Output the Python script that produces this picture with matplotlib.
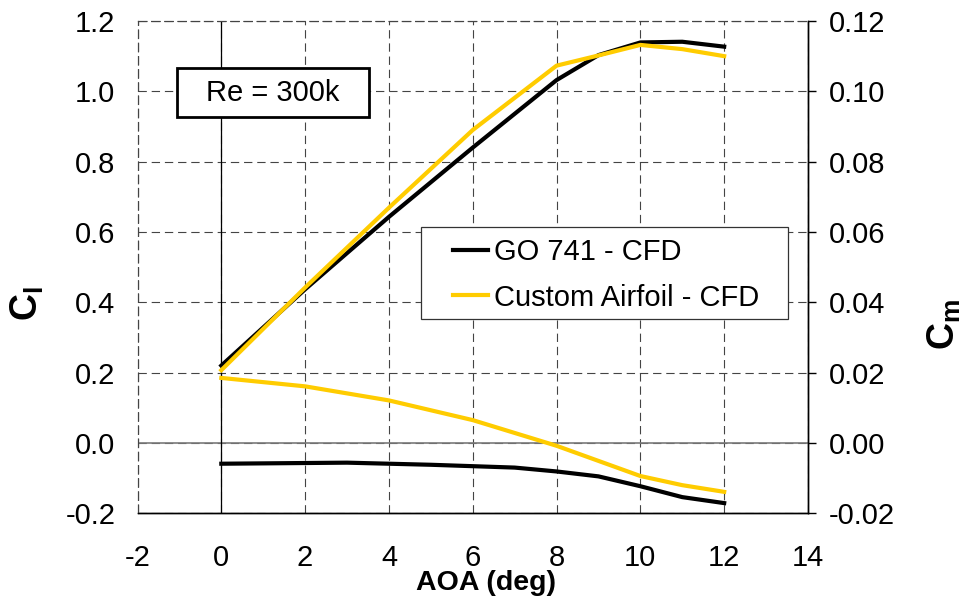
import matplotlib
matplotlib.use("Agg")
import matplotlib.pyplot as plt
from matplotlib.patches import Rectangle
from matplotlib.lines import Line2D

plt.rcParams['font.family'] = ['Liberation Sans', 'DejaVu Sans']
plt.rcParams['mathtext.fontset'] = 'custom'
plt.rcParams['mathtext.rm'] = 'Liberation Sans'
plt.rcParams['mathtext.bf'] = 'Liberation Sans:bold'
plt.rcParams['lines.scale_dashes'] = False

# ---- data ----
aoa_go = [0, 2, 4, 6, 8, 9, 10, 11, 12]
cl_go = [0.220, 0.437, 0.643, 0.840, 1.032, 1.103, 1.139, 1.141, 1.127]
aoa_cu = [0, 2, 4, 6, 8, 9, 10, 11, 12]
cl_cu = [0.207, 0.442, 0.669, 0.890, 1.073, 1.102, 1.132, 1.120, 1.100]

aoa_cm_go = [0, 1, 2, 3, 4, 5, 6, 7, 8, 9, 10, 11, 12]
cm_go = [-0.0059, -0.0058, -0.0057, -0.0056, -0.0059, -0.0062, -0.0066,
         -0.0070, -0.0081, -0.0095, -0.0123, -0.0154, -0.0171]
aoa_cm_cu = [0, 2, 4, 6, 8, 10, 11, 12]
cm_cu = [0.0185, 0.0161, 0.0121, 0.0065, -0.0008, -0.0094, -0.0120, -0.0139]

labels = ['GO 741 - CFD', 'Custom Airfoil - CFD']
x_ticks = [-2, 0, 2, 4, 6, 8, 10, 12, 14]
cl_ticks = [-0.2, 0.0, 0.2, 0.4, 0.6, 0.8, 1.0, 1.2]
cm_ticks = [-0.02, 0.0, 0.02, 0.04, 0.06, 0.08, 0.10, 0.12]

BLACK = '#000000'
YELLOW = '#FFCC00'
W, H = 964, 598
FS = 21

fig = plt.figure(figsize=(W / 100, H / 100), dpi=100)
ax = fig.add_axes([137.5 / W, 1 - 513.3 / H, (808 - 137.5) / W, (513.3 - 21) / H])
ax2 = ax.twinx()

dash = (0, (6, 3.5))
gridc = '#444444'

ax.set_xlim(-2, 14)
ax.set_ylim(-0.2, 1.2)
ax2.set_ylim(-0.02, 0.12)
ax.set_xticks(x_ticks)
ax.set_xticklabels([str(t) for t in x_ticks])
ax.set_yticks(cl_ticks)
ax.set_yticklabels([f'{t:.1f}' for t in cl_ticks])
ax2.set_yticks(cm_ticks)
ax2.set_yticklabels([f'{t:.2f}' for t in cm_ticks])

ax.grid(True, color=gridc, linestyle=dash, linewidth=0.8)
ax.set_axisbelow(True)

ax.tick_params(axis='x', length=0, pad=22, labelsize=FS)
ax.tick_params(axis='y', length=0, pad=16, labelsize=FS)
ax2.tick_params(axis='y', direction='out', length=6, width=1, pad=9, labelsize=FS,
                color='black')

for a in (ax, ax2):
    a.spines['top'].set_linestyle(dash)
    a.spines['top'].set_color(gridc)
    a.spines['top'].set_linewidth(0.8)
    a.spines['left'].set_linestyle(dash)
    a.spines['left'].set_color(gridc)
    a.spines['left'].set_linewidth(0.8)
    a.spines['bottom'].set_color('black')
    a.spines['bottom'].set_linewidth(1.0)
    a.spines['right'].set_color('black')
    a.spines['right'].set_linewidth(1.0)

ax.axhline(0, color='#7a7a7a', linewidth=1.2, zorder=1.5)
ax.axvline(0, color='black', linewidth=0.9, zorder=1.5)

lw = 3.0
ax.plot(aoa_go, cl_go, color=BLACK, linewidth=lw, zorder=3)
ax.plot(aoa_cu, cl_cu, color=YELLOW, linewidth=lw, zorder=4)
ax2.plot(aoa_cm_go, cm_go, color=BLACK, linewidth=lw, zorder=3)
ax2.plot(aoa_cm_cu, cm_cu, color=YELLOW, linewidth=lw, zorder=4)

# legend frame (drawn manually) and entries
fig.patches.append(Rectangle((421 / W, 1 - 319 / H), 367 / W, 92 / H,
                             transform=fig.transFigure, facecolor='white',
                             edgecolor='#333333', linewidth=0.9, zorder=9))
handles = [Line2D([], [], color=BLACK, linewidth=lw),
           Line2D([], [], color=YELLOW, linewidth=lw)]
leg = fig.legend(handles, labels, loc='upper left',
                 bbox_to_anchor=(453 / W, 1 - 238 / H), borderaxespad=0,
                 fontsize=FS, frameon=False, handlelength=1.2,
                 handletextpad=0.2, borderpad=0, labelspacing=0.6)
leg.set_zorder(10)

# Re box
fig.patches.append(Rectangle((176.7 / W, 1 - 116.7 / H), 192.6 / W, 48.7 / H,
                             transform=fig.transFigure, facecolor='white',
                             edgecolor='black', linewidth=2.0, zorder=10))
fig.text(273 / W, 1 - 93 / H, 'Re = 300k', ha='center', va='center',
         fontsize=FS, zorder=11)

# axis labels
fig.text(27 / W, 1 - 304 / H, r'$\mathbf{C}_{\mathbf{l}}$', rotation=90,
         ha='center', va='center', fontsize=27)
fig.text(944 / W, 1 - 324 / H, r'$\mathbf{C}_{\mathbf{m}}$', rotation=90,
         ha='center', va='center', fontsize=27)
fig.text(486 / W, 1 - 583 / H, 'AOA (deg)', ha='center', va='center',
         fontsize=20.5, fontweight='bold')

fig.savefig('out.png', dpi=100)
